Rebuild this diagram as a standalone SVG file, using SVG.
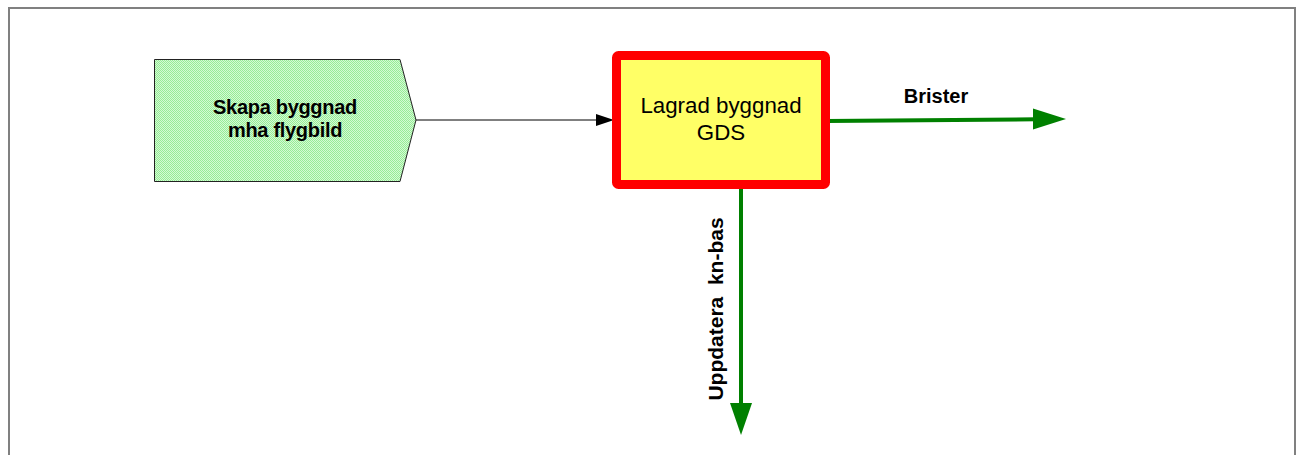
<svg xmlns="http://www.w3.org/2000/svg" width="1302" height="455" viewBox="0 0 1302 455">
<style>
.lbl{font-family:"Liberation Sans",Arial,sans-serif;fill:#000;}
.b{font-weight:bold;}
.gline{stroke:#008000;stroke-width:4;stroke-linecap:round;fill:none;}
</style>
<defs>
<pattern id="dither" width="2" height="2" patternUnits="userSpaceOnUse">
<rect width="2" height="2" fill="#d4fad4"/>
<rect width="1" height="1" fill="#96ec96"/>
<rect x="1" y="1" width="1" height="1" fill="#96ec96"/>
</pattern>
</defs>
<rect x="0" y="0" width="1302" height="455" fill="#fff"/>
<rect x="9" y="8" width="1286" height="460" fill="none" stroke="#808080" stroke-width="2"/>
<g id="connectors">
<g id="c1">
<line x1="416" y1="120" x2="598" y2="120" stroke="#000" stroke-width="1"/>
<polygon points="614,120 596,114 596,126" fill="#000"/>
</g>
<g id="c2">
<line class="gline" x1="826" y1="121" x2="1036" y2="119.3"/>
<polygon points="1066,119 1033,108.5 1033,129.5" fill="#008000"/>
<text class="lbl b" x="936" y="103" font-size="20" text-anchor="middle">Brister</text>
</g>
<g id="c3">
<line class="gline" x1="741" y1="186" x2="741" y2="405"/>
<polygon points="741,435 730,403 752,403" fill="#008000"/>
<text class="lbl b" x="0" y="0" font-size="21" text-anchor="middle" xml:space="preserve" style="white-space:pre" transform="translate(722.5,309) rotate(-90)">Uppdatera  kn-bas</text>
</g>
</g>
<g id="node1">
<polygon points="154.5,59.5 400,59.5 416,120 400,181.5 154.5,181.5" fill="url(#dither)" stroke="#222" stroke-width="1"/>
<text class="lbl b" x="285" y="114" font-size="20" letter-spacing="-0.3" text-anchor="middle">Skapa byggnad</text>
<text class="lbl b" x="285" y="137" font-size="20" letter-spacing="-0.3" text-anchor="middle">mha flygbild</text>
</g>
<g id="node2">
<rect x="616.5" y="55.5" width="209" height="129" rx="2" fill="#ffff66" stroke="#ff0000" stroke-width="9"/>
<text class="lbl" x="721" y="113" font-size="22.3" text-anchor="middle">Lagrad byggnad</text>
<text class="lbl" x="721" y="140" font-size="22.3" text-anchor="middle">GDS</text>
</g>
</svg>
